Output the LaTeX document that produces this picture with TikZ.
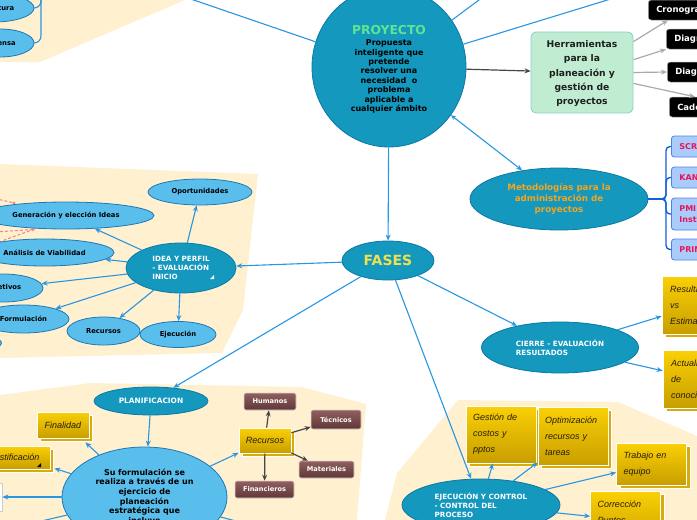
\documentclass[tikz,border=0pt]{standalone}
\usepackage{fontspec}
\setmainfont{DejaVu Sans}
\newfontfamily\handfont{Liberation Sans}
\usetikzlibrary{arrows.meta,shapes.geometric,shadows}
\definecolor{beige}{RGB}{255,240,208}
\definecolor{tealc}{RGB}{20,152,190}
\definecolor{tealb}{RGB}{12,120,165}
\definecolor{lbluec}{RGB}{90,190,236}
\definecolor{lblueb}{RGB}{30,120,180}
\definecolor{connc}{RGB}{40,150,225}
\definecolor{projgreen}{RGB}{95,228,145}
\definecolor{fasesy}{RGB}{240,225,80}
\definecolor{orangec}{RGB}{245,165,30}
\definecolor{greenbox}{RGB}{192,236,210}
\definecolor{greenbord}{RGB}{140,205,205}
\definecolor{mfill}{RGB}{170,204,250}
\definecolor{mbord}{RGB}{80,130,230}
\definecolor{mtext}{RGB}{230,20,90}
\definecolor{bracec}{RGB}{20,95,215}
\definecolor{ytop}{RGB}{250,208,5}
\definecolor{ybot}{RGB}{200,158,0}
\definecolor{yshad}{RGB}{215,172,10}
\definecolor{ytext}{RGB}{40,30,10}
\definecolor{btop}{RGB}{145,95,95}
\definecolor{bbot}{RGB}{95,55,55}
\definecolor{bbord}{RGB}{225,210,210}
\definecolor{pinkc}{RGB}{245,130,130}
\definecolor{greyarr}{RGB}{170,170,170}
\definecolor{darkarr}{RGB}{70,70,70}
\definecolor{darktext}{RGB}{30,30,30}
\begin{document}
\begin{tikzpicture}[x=1pt,y=-1pt,
  tealnode/.style={ellipse, fill=tealc, draw=tealb, line width=0.8pt, inner sep=0pt, text=white, align=left, font=\bfseries\fontsize{7.2}{8.8}\selectfont},
  bluenode/.style={ellipse, fill=lbluec, draw=lblueb, line width=0.8pt, inner sep=0pt, text=black, font=\bfseries\fontsize{6.8}{8}\selectfont},
  conn/.style={draw=connc, line width=1.1pt, -{Stealth[length=6pt,width=5pt]}},
  plainconn/.style={draw=connc, line width=1.1pt},
  greyconn/.style={draw=greyarr, line width=1.2pt, -{Stealth[length=6pt,width=5pt]}},
  darkconn/.style={draw=darkarr, line width=1.2pt, -{Stealth[length=6pt,width=5pt]}},
  brace/.style={draw=bracec, line width=1.4pt, rounded corners=4pt},
  pinkdash/.style={draw=pinkc, line width=1pt, dash pattern=on 3pt off 2pt},
  ybox/.style={rectangle, top color=ytop, bottom color=ybot, draw=white, line width=0.8pt, inner sep=0pt, align=left, text=ytext,
     font=\handfont\itshape\fontsize{9}{16}\selectfont,
     general shadow={shadow xshift=3.5pt, shadow yshift=-3.5pt, fill=yshad, draw=white, line width=0.8pt}},
  bbox/.style={rectangle, rounded corners=2pt, top color=btop, bottom color=bbot, draw=bbord, line width=0.6pt, text=white, inner sep=0pt, font=\bfseries\fontsize{6.6}{8}\selectfont},
  kbox/.style={rectangle, rounded corners=3pt, fill=black, draw=gray!70, line width=0.5pt, text=white, anchor=west, minimum height=20pt, inner xsep=8pt, font=\bfseries\fontsize{8.5}{10}\selectfont},
  mbox/.style={rectangle, rounded corners=3pt, fill=mfill, draw=mbord, line width=0.8pt, text=mtext, anchor=west, align=left, inner xsep=8pt, font=\bfseries\fontsize{8}{11}\selectfont}
]
\useasboundingbox (0,0) rectangle (697,520);
\clip (0,0) rectangle (697,520);

% background regions
\fill[beige] (0,0) -- (185,0) -- (40,62) -- (0,62) -- cycle;
\fill[beige] (0,164) -- (258,174) -- (243,310) -- (222,353) -- (0,358) -- cycle;
\fill[beige] (0,395) -- (90,383) -- (302,387) -- (366,404) -- (357,520) -- (0,520) -- cycle;
\fill[beige] (458,400) -- (618,402) -- (697,436) -- (697,520) -- (385,520) -- (397,473) -- cycle;

% pink dashed relations (partly hidden)
\coordinate (pkA) at (-20,195);
\coordinate (pkA2) at (14,203);
\coordinate (pkB) at (-20,233);
\coordinate (pkC) at (-20,249);
\coordinate (pkD) at (33,229.5);
\draw[pinkdash] (pkA) -- (pkA2);
\draw[pinkdash] (pkB) -- (pkD);
\draw[pinkdash] (pkC) -- (pkD);
\fill[pinkc] (pkA2) circle (1.6pt);
\fill[pinkc] (pkD) circle (1.6pt);

% ---------- nodes ----------
\node[tealnode, minimum width=154pt, minimum height=160pt, align=center, text=black,
      font=\bfseries\fontsize{8}{9.4}\selectfont] (proj) at (389,67)
  {\rule{0pt}{14pt}{\color{projgreen}\fontsize{12.3}{9.4}\selectfont PROYECTO}\\[1.5pt]
   Propuesta\\inteligente que\\pretende\\resolver una\\necesidad\ \ o\\problema\\aplicable a\\cualquier ámbito};

\node[rectangle, rounded corners=5pt, fill=greenbox, draw=greenbord, line width=0.8pt,
      minimum width=102pt, minimum height=81pt, inner sep=0pt, align=center, text=darktext,
      font=\bfseries\fontsize{9.2}{14.2}\selectfont] (herr) at (582,72.5)
  {\rule{0pt}{9pt}Herramientas\\para la\\planeación y\\gestión de\\proyectos};

\node[kbox] (cron) at (648,10) {Cronograma};
\node[kbox] (gantt) at (666,39) {Diagrama de Gantt};
\node[kbox] (pert) at (667,72) {Diagrama PERT};
\node[kbox] (cad) at (669,107) {Cadena de valor};

\node[tealnode, minimum width=178pt, minimum height=62pt, align=center, text=orangec,
      font=\bfseries\fontsize{8.7}{11}\selectfont] (met) at (559,199)
  {Metodologías para la\\administración de\\proyectos};

\node[mbox, minimum height=21pt] (scrum) at (671,146.5) {SCRUM};
\node[mbox, minimum height=21pt] (kanban) at (671,177.5) {KANBAN};
\node[mbox, minimum height=32pt] (pmi) at (671,214) {PMI - Project Management\\Institute};
\node[mbox, minimum height=21pt] (prince) at (671,249.5) {PRINCE2};

\node[tealnode, minimum width=92pt, minimum height=39pt, text=fasesy,
      font=\bfseries\fontsize{14}{16}\selectfont] (fases) at (388,260.5) {FASES};

% top-left partial nodes
\node[bluenode, minimum width=80pt, minimum height=28pt] (tla) at (-6,8) {Estructura};
\node[bluenode, minimum width=68pt, minimum height=28pt] (tlb) at (0,43) {Defensa};

% IDEA Y PERFIL
\node[tealnode, minimum width=110pt, minimum height=50pt] (idea) at (181,268)
  {IDEA Y PERFIL\\- EVALUACIÓN\\INICIO};
\node[bluenode, minimum width=104pt, minimum height=26pt] (opor) at (200,192) {Oportunidades};
\node[bluenode, minimum width=176pt, minimum height=27pt] (gen) at (66,215.5) {Generación y elección Ideas};
\node[bluenode, minimum width=139pt, minimum height=27pt] (anal) at (44.5,252.5) {Análisis de Viabilidad};
\node[bluenode, minimum width=80pt, minimum height=28pt] (obj) at (3,288) {Objetivos};
\node[bluenode, minimum width=91pt, minimum height=28pt] (formu) at (23.5,319) {Formulación};
\node[bluenode, minimum width=73pt, minimum height=28pt] (recu) at (103.5,331) {Recursos};
\node[bluenode, minimum width=76pt, minimum height=26pt] (ejecu) at (178,334.5) {Ejecución};
\node[bluenode, minimum width=83pt, minimum height=20pt] (extra) at (-40,343) {};

% CIERRE
\node[tealnode, minimum width=157pt, minimum height=51pt] (cierre) at (560,347.5)
  {CIERRE - EVALUACIÓN\\RESULTADOS};
\node[ybox, minimum width=70pt, minimum height=58pt, text width=56pt, inner xsep=8pt] (res) at (698,305)
  {Resultados\\vs\\Estimados};
\node[ybox, minimum width=70pt, minimum height=58pt, text width=56pt, inner xsep=8pt] (act) at (699,379)
  {Actualización\\de\\conocimiento};

% PLANIFICACION
\node[tealnode, minimum width=114pt, minimum height=28pt, font=\bfseries\fontsize{7.4}{9}\selectfont] (plan) at (151,401) {PLANIFICACION};
\node[bluenode, minimum width=165pt, minimum height=100pt, align=center,
      font=\bfseries\fontsize{8}{9.7}\selectfont] (form) at (144.5,497)
  {Su formulación se\\realiza a través de un\\ejercicio de\\planeación\\estratégica que\\incluye};
\node[ybox, minimum width=52pt, minimum height=26pt, align=center] (fin) at (63,425) {Finalidad};
\node[ybox, minimum width=70pt, minimum height=23pt, align=center] (just) at (15,457.5) {Justificación};
\node[rectangle, fill=white, draw=gray!40, line width=0.6pt, minimum width=60pt, minimum height=28pt] (leftbox) at (-28,497) {};
\node[ybox, minimum width=52pt, minimum height=25pt, align=center] (yrec) at (265,440.5) {Recursos};
\node[bbox, minimum width=52pt, minimum height=17pt] (hum) at (270,401.5) {Humanos};
\node[bbox, minimum width=50pt, minimum height=19pt] (tec) at (336,419.5) {Técnicos};
\node[bbox, minimum width=55pt, minimum height=17pt] (mat) at (326.5,469.5) {Materiales};
\node[bbox, minimum width=59pt, minimum height=17pt] (fina) at (264.5,489.5) {Financieros};

% EJECUCION
\node[tealnode, minimum width=158pt, minimum height=52pt] (ejec) at (481,505)
  {EJECUCIÓN Y CONTROL\\- CONTROL DEL\\PROCESO};
\node[ybox, minimum width=70pt, minimum height=57pt, text width=56pt, inner xsep=7pt] (gest) at (501,434.5)
  {Gestión de\\costos y\\pptos};
\node[ybox, minimum width=70pt, minimum height=58pt, text width=56pt, inner xsep=7pt] (opt) at (573,436)
  {Optimización\\recursos y\\tareas};
\node[ybox, minimum width=69pt, minimum height=42pt, text width=56pt, inner xsep=7pt] (trab) at (651.5,464)
  {Trabajo en\\equipo};
\node[ybox, minimum width=69pt, minimum height=58pt, text width=56pt, inner xsep=7pt] (corr) at (625.5,520)
  {Corrección\\Puntos\\críticos};

% note markers
\fill[white] (210,279) -- (214,279) -- (214,275) -- cycle;
\fill[black] (37,467) -- (41,467) -- (41,463) -- cycle;

% ---------- connectors ----------
\coordinate (offL) at (150,-15);
\coordinate (offR1) at (495,-12);
\coordinate (offR2) at (640,-10);
\draw[plainconn] (proj) -- (offL);
\draw[plainconn] (proj) -- (offR1);
\draw[plainconn] (proj) -- (offR2);
\draw[darkconn] (proj) -- (herr);
\draw[draw=connc, line width=1.1pt, {Stealth[length=5pt,width=4.5pt]}-{Stealth[length=6pt,width=5pt]}] (proj) -- (met);
\draw[conn] (proj) -- (fases);

\draw[greyconn] (herr.31) -- ([xshift=20pt]cron.south west);
\draw[greyconn] (herr.14) -- (gantt.south west);
\draw[greyconn] (herr.0) -- (pert.west);
\draw[greyconn] (herr.-12) -- ([xshift=26pt]cad.north west);

\coordinate (mfork) at (658,199);
\draw[brace] (met.east) -- (mfork);
\draw[brace] (mfork) -| ([xshift=-5pt]scrum.west) -- (scrum.west);
\draw[brace] (mfork) -| ([xshift=-5pt]kanban.west) -- (kanban.west);
\draw[brace] (mfork) -| ([xshift=-5pt]pmi.west) -- (pmi.west);
\draw[brace] (mfork) -| ([xshift=-5pt]prince.west) -- (prince.west);

\coordinate (tlfork) at (41,-20);
\draw[plainconn, rounded corners=7pt] (tla.east) -| (tlfork);
\draw[plainconn, rounded corners=7pt] (tlb.east) -| (tlfork);

\draw[conn] (fases) -- (idea);
\draw[conn] (fases) -- (plan);
\draw[conn] (fases) -- (ejec);
\draw[conn] (fases) -- (cierre);

\draw[conn] (idea) -- (opor);
\draw[conn] (idea) -- (gen);
\draw[conn] (idea) -- (anal);
\draw[conn] (idea) -- (obj);
\draw[conn] (idea) -- (formu);
\draw[conn] (idea) -- (recu);
\draw[conn] (idea) -- (ejecu);

\draw[conn] (cierre) -- (res);
\draw[conn] (cierre) -- (act);

\draw[conn] (plan) -- (form);
\draw[conn] (form) -- ([xshift=-4pt,yshift=-4pt]fin.south east);
\draw[conn] (form) -- ([xshift=4pt,yshift=1pt]just.south east);
\draw[conn] (form) -- (leftbox);
\coordinate (offLL) at (20,526);
\coordinate (offLR) at (270,530);
\draw[conn] (form) -- (offLL);
\draw[conn] (form) -- (offLR);
\draw[conn] (form) -- (yrec);
\draw[darkconn] (yrec) -- (hum);
\draw[darkconn] (yrec) -- (tec);
\draw[darkconn] (yrec) -- (mat);
\draw[darkconn] (yrec) -- (fina);

\draw[conn] (ejec) -- (gest);
\draw[conn] (ejec) -- (opt);
\draw[conn] (ejec) -- (trab);
\draw[conn] (ejec) -- (corr);
\end{tikzpicture}
\end{document}
